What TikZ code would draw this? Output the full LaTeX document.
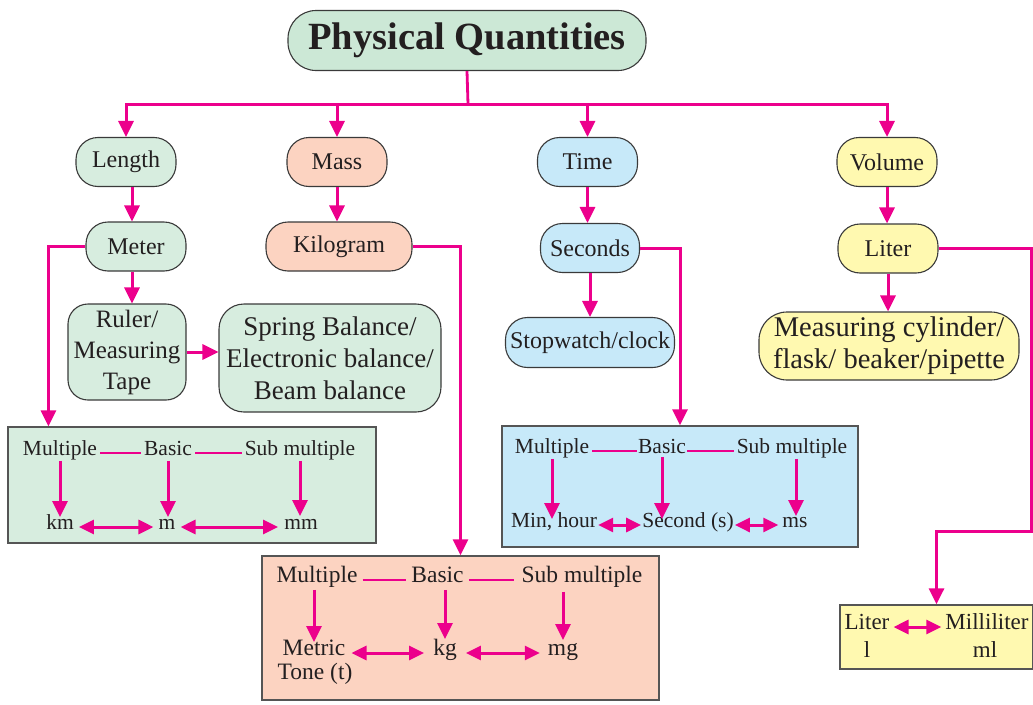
\documentclass[tikz,border=0pt]{standalone}
\usepackage{fontspec}
\setmainfont{Liberation Serif}
\usetikzlibrary{arrows.meta}
\definecolor{mag}{HTML}{EC008C}
\definecolor{titleg}{HTML}{CCE8D6}
\definecolor{lgreen}{HTML}{D7EDDF}
\definecolor{peach}{HTML}{FCD3C1}
\definecolor{lblue}{HTML}{C7E9F9}
\definecolor{lyellow}{HTML}{FFF9B0}
\definecolor{bord}{HTML}{3A3A3A}
\definecolor{boxbord}{HTML}{555555}
\definecolor{txt}{HTML}{231F20}
\tikzset{
  pill/.style={draw=bord, line width=1.1pt, rounded corners=22pt, align=center, inner sep=0pt, text=txt},
  arr/.style={draw=mag, line width=3pt, -{Triangle[length=16pt,width=15pt]}},
  dbl/.style={draw=mag, line width=3pt, {Triangle[length=15pt,width=14pt]}-{Triangle[length=15pt,width=14pt]}},
  lnk/.style={draw=mag, line width=2.8pt},
  unitbox/.style={draw=boxbord, line width=1.3pt, inner sep=0pt},
  lbl/.style={inner sep=3pt, text=txt, text height=0.7em, text depth=0.25em},
  tier/.style={font=\fontsize{24}{30}\selectfont, minimum height=49pt},
}
\begin{document}
\begin{tikzpicture}[x=1pt,y=-1pt]
\useasboundingbox (0,0) rectangle (1033,704);
% top
\node[pill, fill=titleg, minimum width=358pt, minimum height=60pt, rounded corners=28pt,
      font=\fontsize{38.5}{44}\selectfont\bfseries] (title) at (467,40.5) {Physical Quantities};
\node[pill, tier, fill=lgreen, minimum width=100pt] (len) at (126,162) {Length};
\node[pill, tier, fill=peach, minimum width=100pt] (mass) at (337,162) {Mass};
\node[pill, tier, fill=lblue, minimum width=100pt] (time) at (587.5,162) {Time};
\node[pill, tier, fill=lyellow, minimum width=100pt] (vol) at (887,162) {Volume};
\node[pill, tier, fill=lgreen, minimum width=100pt] (meter) at (136,246.5) {Meter};
\node[pill, tier, fill=peach, minimum width=146pt] (kilo) at (339,246.5) {Kilogram};
\node[pill, tier, fill=lblue, minimum width=99pt] (sec) at (590,248) {Seconds};
\node[pill, tier, fill=lyellow, minimum width=100pt] (liter) at (888,248.5) {Liter};
\node[pill, fill=lgreen, minimum width=118pt, minimum height=96pt, rounded corners=20pt,
      font=\fontsize{25}{31}\selectfont] (ruler) at (127,352) {Ruler/\\Measuring\\Tape};
\node[pill, fill=lgreen, minimum width=222pt, minimum height=108pt, rounded corners=25pt,
      font=\fontsize{27}{32}\selectfont] (spring) at (330,358) {Spring Balance/\\Electronic balance/\\Beam balance};
\node[pill, tier, fill=lblue, minimum width=169pt, minimum height=50pt] (stop) at (590,342.5) {Stopwatch/clock};
\node[pill, fill=lyellow, minimum width=260pt, minimum height=68pt, rounded corners=28pt,
      font=\fontsize{28.5}{32}\selectfont] (meas) at (889,346) {Measuring cylinder/\\flask/ beaker/pipette};
% unit boxes
\node[unitbox, fill=lgreen, minimum width=368pt, minimum height=116pt] (gbox) at (192,485) {};
\node[unitbox, fill=lblue, minimum width=356pt, minimum height=121pt] (bbox) at (680,486.5) {};
\node[unitbox, fill=peach, minimum width=397pt, minimum height=144pt] (pbox) at (460.5,628) {};
\node[unitbox, fill=lyellow, minimum width=193pt, minimum height=64pt] (ybox) at (936.5,637) {};
% green box content
\begin{scope}[every node/.style={lbl, font=\fontsize{21.5}{26}\selectfont}]
\node (gm) at (60,453) {Multiple};
\node (gb) at (168,453) {Basic};
\node (gs) at (300,453) {Sub multiple};
\node[inner sep=5pt] (gkm) at (60,527) {km};
\node[inner sep=5pt] (gmu) at (167,527) {m};
\node[inner sep=6pt] (gmm) at (301,527) {mm};
\end{scope}
\draw[lnk] (gm.east) -- (gb.west);
\draw[lnk] (gb.east) -- (gs.west);
\draw[arr] (gm.south) -- (gm.south |- gkm.north);
\draw[arr] (gb.south) -- (gb.south |- gmu.north);
\draw[arr] (gs.south) -- (gs.south |- gmm.north);
\draw[dbl] (gkm.east) -- (gmu.west);
\draw[dbl] (gmu.east) -- (gmm.west);
% blue box content
\begin{scope}[every node/.style={lbl, font=\fontsize{21.5}{26}\selectfont}]
\node (bm) at (552,451) {Multiple};
\node[inner sep=1pt] (bb) at (662,451) {Basic};
\node (bs) at (792,451) {Sub multiple};
\node[inner sep=1pt] (bmin) at (554,525) {Min, hour};
\node[inner sep=1pt] (bsec) at (688,525) {Second (s)};
\node[inner sep=4pt] (bms) at (795,525) {ms};
\end{scope}
\draw[lnk] (bm.east) -- (bb.west);
\draw[lnk] (bb.east) -- (bs.west);
\draw[arr] (bm.south) -- (bm.south |- bmin.north);
\draw[arr] (bb.south) -- (bb.south |- bsec.north);
\draw[arr] ([xshift=4pt]bs.south) -- ([xshift=4pt]bs.south |- bms.north);
\draw[dbl] (bmin.east) -- (bsec.west);
\draw[dbl] (bsec.east) -- (bms.west);
% pink box content
\begin{scope}[every node/.style={lbl, font=\fontsize{23.5}{28}\selectfont}]
\node[inner sep=5pt] (pm) at (317,580) {Multiple};
\node[inner sep=5pt] (pb) at (437.5,580) {Basic};
\node[inner sep=7pt] (ps) at (582,580) {Sub multiple};
\node[inner sep=6pt] (pmet) at (314,653) {Metric};
\node (pton) at (315,677) {Tone (t)};
\node[inner sep=9pt] (pkg) at (445,653) {kg};
\node[inner sep=8pt] (pmg) at (563,653) {mg};
\end{scope}
\draw[lnk] (pm.east) -- (pb.west);
\draw[lnk] (pb.east) -- (ps.west);
\draw[arr] (pmet.north |- pm.south) -- (pmet.north);
\draw[arr] (pkg.north |- pb.south) -- (pkg.north);
\draw[arr] (pmg.north |- ps.south) -- (pmg.north);
\draw[dbl] (pmet.east) -- (pkg.west);
\draw[dbl] (pkg.east) -- (pmg.west);
% yellow box content
\begin{scope}[every node/.style={lbl, font=\fontsize{23}{28}\selectfont}]
\node[inner sep=4pt] (yl) at (867,627) {Liter};
\node (yl2) at (867,655) {l};
\node[inner sep=4pt] (yml) at (987,627) {Milliliter};
\node (yml2) at (985,655) {ml};
\end{scope}
\draw[dbl] (yl.east) -- (yml.west);
% connectors
\coordinate (hub) at (468,104);
\draw[lnk] (title.south) -- (hub);
\draw[arr] (hub) -| (len.north);
\draw[arr] (hub) -| (mass.north);
\draw[arr] (hub) -| (time.north);
\draw[arr] (hub) -| (vol.north);
\draw[arr] ([xshift=6pt]len.south) -- ([xshift=6pt]len.south |- meter.north);
\draw[arr] ([xshift=-4pt]meter.south) -- ([xshift=-4pt]meter.south |- ruler.north);
\draw[arr] (meter.west) -- ++(-37,0) coordinate (mturn) -- (mturn |- gbox.north);
\draw[arr] (ruler.east) -- (ruler.east -| spring.west);
\draw[arr] (mass.south) -- (mass.south |- kilo.north);
\draw[arr] (kilo.east) -| (pbox.north);
\draw[arr] (time.south) -- (time.south |- sec.north);
\draw[arr] (sec.south) -- (sec.south |- stop.north);
\draw[arr] (sec.east) -| (bbox.north);
\draw[arr] (vol.south) -- (vol.south |- liter.north);
\draw[arr] (liter.south) -- (liter.south |- meas.north);
\coordinate (lr) at (1031,531);
\draw[arr] (liter.east) -| (lr) -| (ybox.north);
\end{tikzpicture}
\end{document}
